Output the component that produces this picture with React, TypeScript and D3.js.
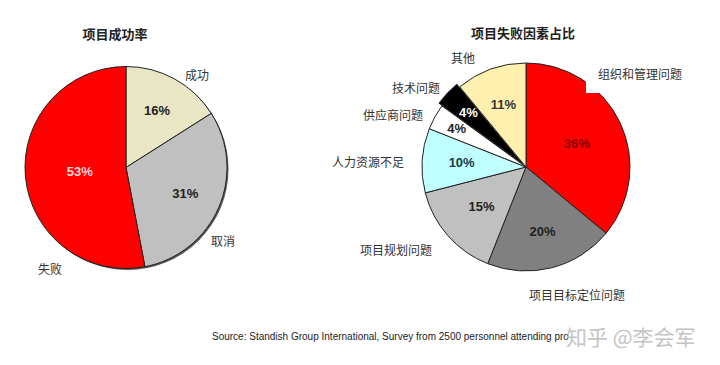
import * as d3 from "d3";

// left pie: project outcomes
const outcomeLabels = ["成功", "取消", "失败"];
const outcomeValues = [16, 31, 53];

// right pie: reasons for failure
const reasonLabels = ["组织和管理问题", "项目目标定位问题", "项目规划问题", "人力资源不足", "供应商问题", "技术问题", "其他"];
const reasonValues = [36, 20, 15, 10, 4, 4, 11];

const W = 720;
const H = 365;
const CJK = "'Noto Sans CJK SC', 'Noto Sans', sans-serif";
const ARIAL = "'Liberation Sans', Arial, sans-serif";

const outcomeColors = ["#e8e6c4", "#c0c0c0", "#ff0000"];
const outcomeText = ["#222", "#222", "#ffd6d6"];
const outcomeLabelK = [0.64, 0.64, 0.46];
// category label offsets from the pie centre
const outcomeLabelOff = [[71, -93, "middle"], [97, 73, "middle"], [-76, 101, "middle"]];

const reasonColors = ["#ff0000", "#808080", "#c0c0c0", "#c0ffff", "#ffffff", "#000000", "#fff0b0"];
const reasonText = ["#8a0000", "#222", "#222", "#1c3a48", "#222", "#ffffff", "#333"];
const reasonLabelK = [0.54, 0.64, 0.57, 0.62, 0.76, 0.76, 0.64];
const reasonExplode = [0, 0, 0, 0, 0, 4, 0];
const reasonLabelOff = [
  [72, -94, "start"], [51, 127, "middle"], [-130, 82, "middle"], [-158, -6, "middle"],
  [-133, -53, "middle"], [-110, -80, "middle"], [-63, -110, "middle"],
];

const pie = d3.pie<number>().sort(null).value((d) => d);

function Pie(props: any) {
  const { cx, cy, r, values, colors, textColors, labelK, labels, labelOff, explode, shadow } = props;
  const arcs = pie(values);
  const arc = d3.arc<d3.PieArcDatum<number>>().innerRadius(0).outerRadius(r);
  return (
    <g transform={`translate(${cx},${cy})`}>
      {shadow && <circle cx={1.5} cy={1.5} r={r} fill="#555" />}
      {arcs.map((a, i) => {
        const mid = (a.startAngle + a.endAngle) / 2;
        const e = explode ? explode[i] : 0;
        return (
          <path key={i} d={arc(a) || ""} fill={colors[i]} stroke="#222" strokeWidth={1}
            transform={`translate(${e * Math.sin(mid)},${-e * Math.cos(mid)})`} />
        );
      })}
      {arcs.map((a, i) => {
        const k = r * labelK[i];
        const [x, y] = d3.arc<d3.PieArcDatum<number>>().innerRadius(k).outerRadius(k).centroid(a);
        return (
          <text key={"p" + i} x={x} y={y} textAnchor="middle" dominantBaseline="central"
            fontFamily={ARIAL} fontWeight="bold" fontSize={13} fill={textColors[i]}>
            {values[i]}%
          </text>
        );
      })}
      {labels.map((l: string, i: number) => (
        <text key={"l" + i} x={labelOff[i][0]} y={labelOff[i][1]} textAnchor={labelOff[i][2]}
          dominantBaseline="central" fontFamily={CJK} fontSize={12} fill="#333">
          {l}
        </text>
      ))}
    </g>
  );
}

export default function App() {
  return (
    <div style={{ position: "absolute", left: 0, top: 0 }}>
      <svg width={W} height={H} style={{ display: "block", background: "#fff" }}>
        <text x={115} y={33} textAnchor="middle" dominantBaseline="central" fontFamily={CJK}
          fontWeight="bold" fontSize={13} fill="#222">项目成功率</text>
        <text x={523} y={32} textAnchor="middle" dominantBaseline="central" fontFamily={CJK}
          fontWeight="bold" fontSize={13} fill="#222">项目失败因素占比</text>

        <Pie cx={126} cy={167.5} r={101} values={outcomeValues} colors={outcomeColors}
          textColors={outcomeText} labelK={outcomeLabelK} labels={outcomeLabels}
          labelOff={outcomeLabelOff} shadow />

        <Pie cx={526} cy={167} r={104} values={reasonValues} colors={reasonColors}
          textColors={reasonText} labelK={reasonLabelK} labels={[]}
          labelOff={reasonLabelOff} explode={reasonExplode} />
        {/* white box behind the top-right label cuts into the red slice */}
        <rect x={586} y={40} width={134} height={53} fill="#fff" />
        {reasonLabels.map((l, i) => (
          <text key={i} x={526 + (reasonLabelOff[i][0] as number)} y={167 + (reasonLabelOff[i][1] as number)}
            textAnchor={reasonLabelOff[i][2] as string} dominantBaseline="central"
            fontFamily={CJK} fontSize={12} fill="#333">{l}</text>
        ))}

        <text x={212} y={336} dominantBaseline="central" fontFamily={ARIAL} fontSize={10} fill="#222">
          Source: Standish Group International, Survey from 2500 personnel attending pro
        </text>
        <text x={566} y={336} dominantBaseline="central" fontFamily={CJK} fontSize={21} fill="#c4c4c4">
          知乎 @李会军
        </text>
      </svg>
    </div>
  );
}
